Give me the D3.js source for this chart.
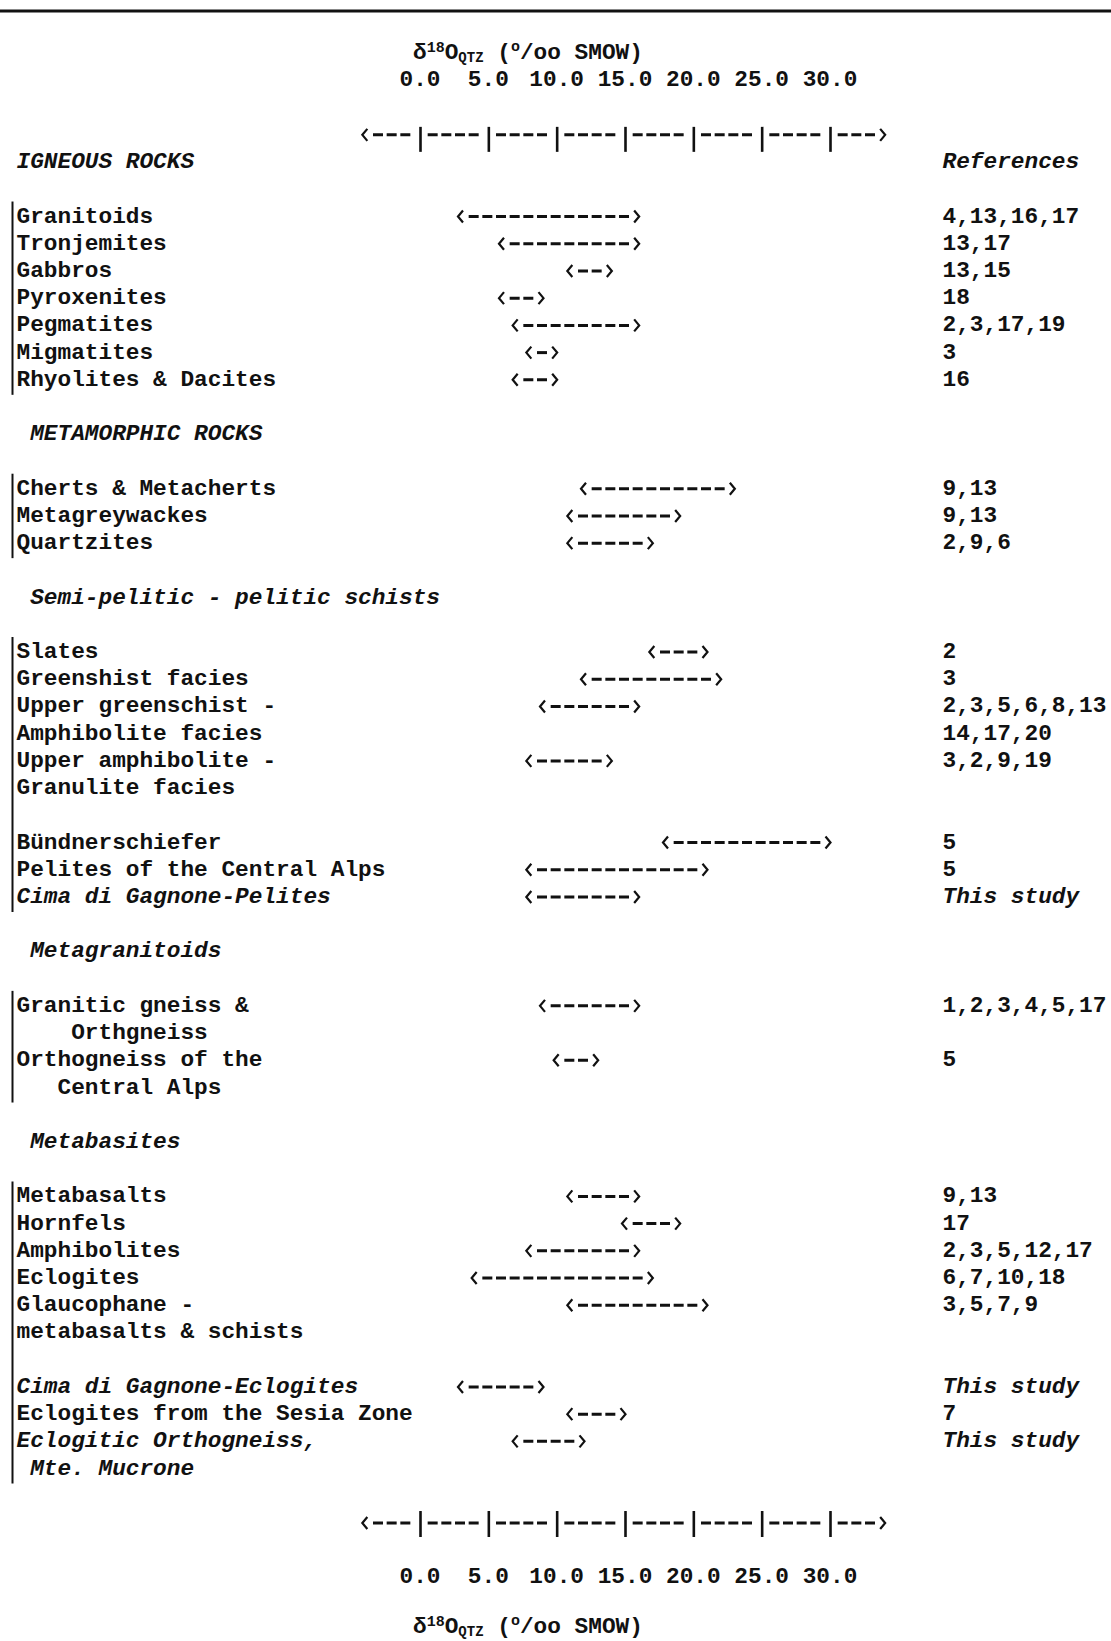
<!DOCTYPE html>
<html>
<head>
<meta charset="utf-8">
<script src="https://cdn.jsdelivr.net/npm/d3@7"></script>
<style>
  html, body { margin: 0; padding: 0; background: #fff; }
  svg text { font-family: "Liberation Mono", "DejaVu Sans Mono", monospace; font-weight: bold; fill: #111; white-space: pre; }
</style>
</head>
<body>
<svg id="chart" width="1111" height="1641"></svg>
<script>
// δ18O of quartz (‰ SMOW) in igneous and metamorphic rocks, with literature sources.

// Section headings as typed (leading space = one column indent)
const sections = ["IGNEOUS ROCKS", " METAMORPHIC ROCKS", " Semi-pelitic - pelitic schists", " Metagranitoids", " Metabasites"];

// Printed lines of the table body, top to bottom ("" = empty line)
const lineLabels = [
  "IGNEOUS ROCKS", "",
  "Granitoids", "Tronjemites", "Gabbros", "Pyroxenites", "Pegmatites", "Migmatites", "Rhyolites & Dacites", "",
  " METAMORPHIC ROCKS", "",
  "Cherts & Metacherts", "Metagreywackes", "Quartzites", "",
  " Semi-pelitic - pelitic schists", "",
  "Slates", "Greenshist facies", "Upper greenschist -", "Amphibolite facies", "Upper amphibolite -", "Granulite facies", "",
  "Bündnerschiefer", "Pelites of the Central Alps", "Cima di Gagnone-Pelites", "",
  " Metagranitoids", "",
  "Granitic gneiss &", "    Orthgneiss", "Orthogneiss of the", "   Central Alps", "",
  " Metabasites", "",
  "Metabasalts", "Hornfels", "Amphibolites", "Eclogites", "Glaucophane -", "metabasalts & schists", "",
  "Cima di Gagnone-Eclogites", "Eclogites from the Sesia Zone", "Eclogitic Orthogneiss,", " Mte. Mucrone"
];

// Labels set in italics
const italicLabels = ["Cima di Gagnone-Pelites", "Cima di Gagnone-Eclogites", "Eclogitic Orthogneiss,", " Mte. Mucrone", "This study"];

// Ranges (‰ on the axis scale)
const rangeRocks = [
  "Granitoids", "Tronjemites", "Gabbros", "Pyroxenites", "Pegmatites", "Migmatites", "Rhyolites & Dacites",
  "Cherts & Metacherts", "Metagreywackes", "Quartzites",
  "Slates", "Greenshist facies", "Upper greenschist -", "Upper amphibolite -",
  "Bündnerschiefer", "Pelites of the Central Alps", "Cima di Gagnone-Pelites",
  "Granitic gneiss &", "Orthogneiss of the",
  "Metabasalts", "Hornfels", "Amphibolites", "Eclogites", "Glaucophane -",
  "Cima di Gagnone-Eclogites", "Eclogites from the Sesia Zone", "Eclogitic Orthogneiss,"
];
const rangeLow = [3, 6, 11, 6, 7, 8, 7,   12, 11, 11,   17, 12, 9, 8,   18, 8, 8,   9, 10,   11, 15, 8, 4, 11,   3, 11, 7];
const rangeHigh = [16, 16, 14, 9, 16, 10, 10,   23, 19, 17,   21, 22, 16, 14,   30, 21, 16,   16, 13,   16, 19, 16, 17, 21,   9, 15, 12];

// Reference numbers per line
const refRocks = [
  "Granitoids", "Tronjemites", "Gabbros", "Pyroxenites", "Pegmatites", "Migmatites", "Rhyolites & Dacites",
  "Cherts & Metacherts", "Metagreywackes", "Quartzites",
  "Slates", "Greenshist facies", "Upper greenschist -", "Amphibolite facies", "Upper amphibolite -",
  "Bündnerschiefer", "Pelites of the Central Alps", "Cima di Gagnone-Pelites",
  "Granitic gneiss &", "Orthogneiss of the",
  "Metabasalts", "Hornfels", "Amphibolites", "Eclogites", "Glaucophane -",
  "Cima di Gagnone-Eclogites", "Eclogites from the Sesia Zone", "Eclogitic Orthogneiss,"
];
const refText = [
  "4,13,16,17", "13,17", "13,15", "18", "2,3,17,19", "3", "16",
  "9,13", "9,13", "2,9,6",
  "2", "3", "2,3,5,6,8,13", "14,17,20", "3,2,9,19",
  "5", "5", "This study",
  "1,2,3,4,5,17", "5",
  "9,13", "17", "2,3,5,12,17", "6,7,10,18", "3,5,7,9",
  "This study", "7", "This study"
];

// Axis
const tickValues = [0, 5, 10, 15, 20, 25, 30];
const tickLabels = ["0.0", "5.0", "10.0", "15.0", "20.0", "25.0", "30.0"];
const axisExtent = [-4, 34];

// ---------------------------------------------------------------------------
const W = 1111, H = 1641, ink = "#111";
const svg = d3.select("#chart");
svg.append("rect").attr("width", W).attr("height", H).attr("fill", "#fff");

const x = d3.scaleLinear().domain([0, 30]).range([420, 830]);
const cell = x(1) - x(0);                       // one typewriter column = 1 ‰
const fontSize = cell / 0.6;
// typewriter lines: 0 = top axis title … 58 = bottom axis title
const y = d3.scaleLinear().domain([0, 58]).range([52.2, 1630.9]);
const bodyStart = 4;                            // grid line of the first body line
const baseOff = 7;                              // baseline below line centre

svg.style("font-size", fontSize + "px");

// rule across the top
svg.append("line").attr("x1", 0).attr("x2", W).attr("y1", 11).attr("y2", 11)
  .attr("stroke", ink).attr("stroke-width", 3);

// row of dashes between two columns (exclusive)
function dashRun(g, a, b, yd) {
  if (b - a < 2) return;
  g.append("line")
    .attr("x1", x(a + 1) - 6).attr("x2", x(b - 1) + 4)
    .attr("y1", yd).attr("y2", yd)
    .attr("stroke", ink).attr("stroke-width", 3)
    .attr("stroke-dasharray", `10 ${cell - 10}`);
}
function arrowHeads(g, a, b, yd) {
  g.append("path")
    .attr("d", `M${x(a) + 2},${yd - 6}L${x(a) - 3},${yd}L${x(a) + 2},${yd + 6}`)
    .attr("fill", "none").attr("stroke", ink).attr("stroke-width", 2.2);
  g.append("path")
    .attr("d", `M${x(b) - 4.5},${yd - 6}L${x(b) + 0.5},${yd}L${x(b) - 4.5},${yd + 6}`)
    .attr("fill", "none").attr("stroke", ink).attr("stroke-width", 2.2);
}

function axisTitle(line, off) {
  const t = svg.append("text").attr("x", x(0) - 7).attr("y", y(line) + off);
  t.append("tspan").text("δ");
  t.append("tspan").attr("dy", -7).style("font-size", "15px").text("18");
  t.append("tspan").attr("dy", 7).text("O");
  t.append("tspan").attr("dy", 3).style("font-size", "14px").text("QTZ");
  t.append("tspan").attr("dy", -3).text(" (");
  t.append("tspan").attr("dy", -8).style("font-size", "15px").text("o");
  t.append("tspan").attr("dy", 8).text("/oo SMOW)");
}

function drawAxis(line, up, down) {
  const yd = y(line) + 1;
  const g = svg.append("g");
  arrowHeads(g, axisExtent[0], axisExtent[1], yd);
  const stops = [axisExtent[0], ...tickValues, axisExtent[1]];
  for (let i = 0; i < stops.length - 1; i++) dashRun(g, stops[i], stops[i + 1], yd);
  const ax = svg.append("g").attr("transform", `translate(0,${yd})`)
    .call(d3.axisBottom(x).tickValues(tickValues).tickSize(down).tickFormat(""));
  ax.select(".domain").remove();
  ax.selectAll(".tick line").attr("y1", -up).attr("stroke", ink).attr("stroke-width", 2.6);
}

function tickText(line) {
  svg.append("g").selectAll("text").data(tickValues).join("text")
    .attr("x", d => x(d)).attr("y", y(line) + baseOff)
    .attr("text-anchor", "middle")
    .text((d, i) => tickLabels[i]);
}

// top axis
axisTitle(0, baseOff);
tickText(1);
drawAxis(3, 8, 17);

// bottom axis
drawAxis(54, 12, 14);
tickText(56);
axisTitle(58, 2);

// body labels
const labelX = 16.5, refX = 942.5;
const lineY = i => y(bodyStart + i);

svg.append("g").selectAll("text")
  .data(lineLabels.map((t, i) => ({ t, i })).filter(d => d.t !== ""))
  .join("text")
  .attr("x", labelX)
  .attr("y", d => lineY(d.i) + baseOff)
  .style("font-style", d => (sections.includes(d.t) || italicLabels.includes(d.t)) ? "italic" : "normal")
  .text(d => d.t);

// reference column
svg.append("text").attr("x", refX).attr("y", lineY(0) + baseOff)
  .style("font-style", "italic").text("References");
svg.append("g").selectAll("text")
  .data(refRocks.map((r, k) => ({ i: lineLabels.indexOf(r), t: refText[k] })))
  .join("text")
  .attr("x", refX)
  .attr("y", d => lineY(d.i) + baseOff)
  .style("font-style", d => italicLabels.includes(d.t) ? "italic" : "normal")
  .text(d => d.t);

// range bars
const bars = svg.append("g");
rangeRocks.forEach((r, k) => {
  const yd = lineY(lineLabels.indexOf(r)) + 1;
  arrowHeads(bars, rangeLow[k], rangeHigh[k], yd);
  dashRun(bars, rangeLow[k], rangeHigh[k], yd);
});

// vertical brackets spanning each block of entries
const groups = [];
let cur = null;
lineLabels.forEach((t, i) => {
  if (sections.includes(t)) { if (cur) groups.push(cur); cur = null; return; }
  if (t === "") return;
  if (!cur) cur = [i, i]; else cur[1] = i;
});
if (cur) groups.push(cur);
svg.append("g").selectAll("line").data(groups).join("line")
  .attr("x1", 12.5).attr("x2", 12.5)
  .attr("y1", d => lineY(d[0]) - 14)
  .attr("y2", d => lineY(d[1]) + 16)
  .attr("stroke", ink).attr("stroke-width", 2);
</script>
</body>
</html>
